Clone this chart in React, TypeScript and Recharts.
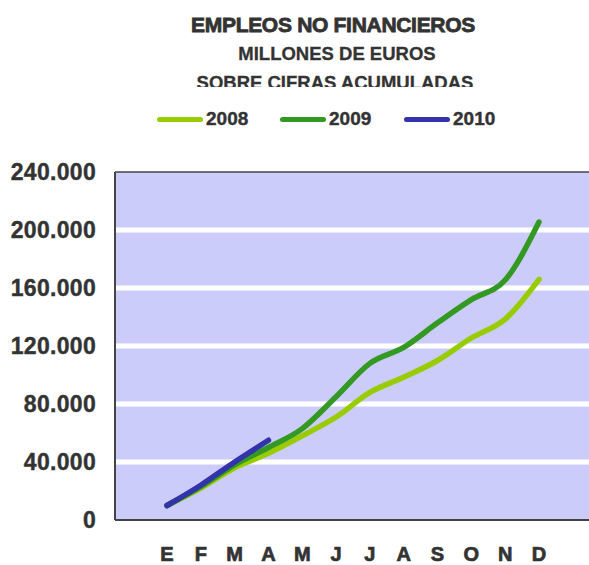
import * as React from "react"
import {
  LineChart,
  Line,
  XAxis,
  YAxis,
  CartesianGrid,
  ReferenceLine,
} from "recharts"

const months = ["E", "F", "M", "A", "M", "J", "J", "A", "S", "O", "N", "D"]
const serie2008 = [10000, 22000, 36000, 46000, 58000, 71000, 88000, 98500, 110000, 125500, 138500, 166000]
const serie2009 = [10000, 23000, 38000, 50000, 63000, 85000, 108000, 119000, 136000, 152000, 165500, 205500]
const serie2010 = [10000, 24000, 40000, 55000]
const yTicks = [0, 40000, 80000, 120000, 160000, 200000, 240000]
const gridValues = [40000, 80000, 120000, 160000, 200000]

const seriesInfo = [
  { key: "v2008", label: "2008", color: "#99cc00" },
  { key: "v2009", label: "2009", color: "#339922" },
  { key: "v2010", label: "2010", color: "#3333aa" },
]

const data = months.map((m, i) => ({
  mes: m,
  idx: i,
  v2008: serie2008[i],
  v2009: serie2009[i],
  v2010: i < serie2010.length ? serie2010[i] : null,
}))

const textColor = "#333333"
const font = "'Liberation Sans', Arial, sans-serif"

function fmt(v: number) {
  return v.toString().replace(/\B(?=(\d{3})+(?!\d))/g, ".")
}

function LegendRow() {
  const xs = [157, 280, 404]
  return (
    <>
      {seriesInfo.map((s, i) => (
        <div key={s.key} style={{ position: "absolute", left: xs[i], top: 108, display: "flex", alignItems: "center" }}>
          <div style={{ width: 46, height: 5, borderRadius: 3, background: s.color }} />
          <span style={{ marginLeft: 3, fontFamily: font, fontWeight: 700, fontSize: 19, color: textColor, lineHeight: "22px", WebkitTextStroke: "0.4px #333" }}>
            {s.label}
          </span>
        </div>
      ))}
    </>
  )
}

export default function App() {
  return (
    <div style={{ position: "absolute", left: 0, top: 0, width: 589, height: 565, overflow: "hidden", background: "#fff" }}>
      <div style={{ position: "absolute", left: 0, width: 666, top: 12, textAlign: "center", fontFamily: font, fontWeight: 700, fontSize: 21, letterSpacing: -0.3, color: textColor, lineHeight: "26px", WebkitTextStroke: "0.8px #333" }}>
        EMPLEOS NO FINANCIEROS
      </div>
      <div style={{ position: "absolute", left: 0, width: 674, top: 43, textAlign: "center", fontFamily: font, fontWeight: 700, fontSize: 18.5, color: textColor, lineHeight: "22px", WebkitTextStroke: "0.3px #333" }}>
        MILLONES DE EUROS
      </div>
      <div style={{ position: "absolute", left: 0, width: 670, top: 72, height: 15, overflow: "hidden", textAlign: "center", fontFamily: font, fontWeight: 700, fontSize: 18.5, color: textColor, lineHeight: "22px", WebkitTextStroke: "0.3px #333" }}>
        SOBRE CIFRAS ACUMULADAS
      </div>
      <LegendRow />
      <div style={{ position: "absolute", left: 0, top: 0 }}>
        <LineChart width={600} height={565} data={data} margin={{ top: 172, right: 5, bottom: 0, left: 0 }}>
          <CartesianGrid
            vertical={false}
            horizontalValues={gridValues}
            stroke="#ffffff"
            strokeWidth={5}
            fill="#ccccfb"
            fillOpacity={1}
          />
          <XAxis
            dataKey="idx"
            type="category"
            tickFormatter={(v: number) => months[v]}
            height={45}
            tickSize={0}
            tickMargin={27}
            axisLine={{ stroke: "#444", strokeWidth: 2 }}
            tickLine={false}
            padding={{ left: 52, right: 56 }}
            tick={{ fill: textColor, stroke: textColor, strokeWidth: 0.7, fontFamily: font, fontWeight: 700, fontSize: 20 }}
            interval={0}
          />
          <YAxis
            domain={[0, 240000]}
            ticks={yTicks}
            width={115}
            tickSize={0}
            tickMargin={19}
            tickFormatter={fmt}
            axisLine={{ stroke: "#444", strokeWidth: 2 }}
            tickLine={false}
            tick={{ fill: textColor, stroke: textColor, strokeWidth: 0.4, fontFamily: font, fontWeight: 700, fontSize: 23, letterSpacing: 0.3 }}
          />
          <ReferenceLine y={240000} stroke="#444" strokeWidth={1.5} />
          {seriesInfo.map((s) => (
            <Line
              key={s.key}
              type="monotone"
              dataKey={s.key}
              stroke={s.color}
              strokeWidth={5.5}
              strokeLinecap="round"
              dot={false}
              activeDot={false}
              connectNulls={false}
              isAnimationActive={false}
            />
          ))}
        </LineChart>
      </div>
    </div>
  )
}
